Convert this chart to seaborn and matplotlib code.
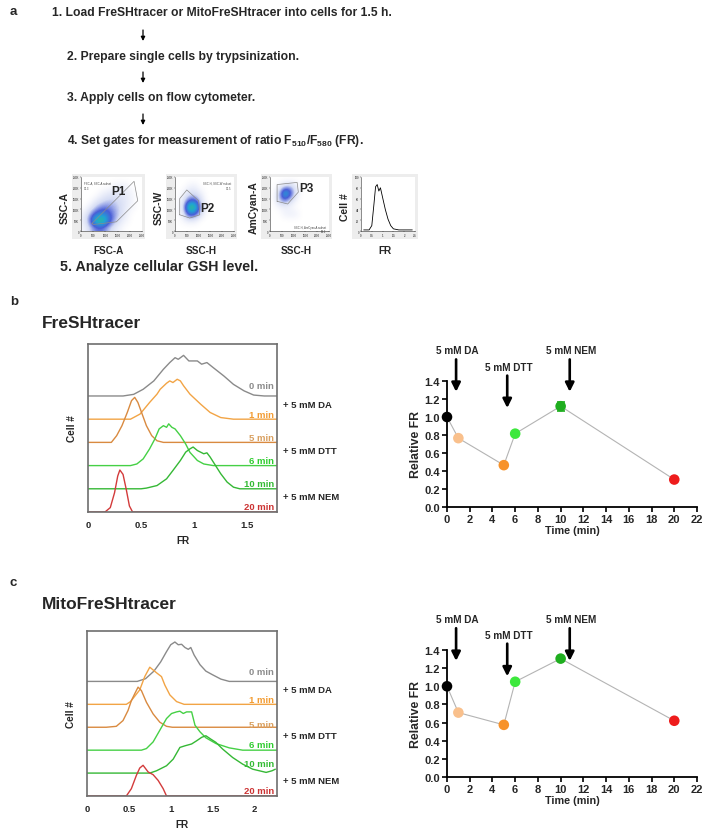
import numpy as np
import pandas as pd
import matplotlib
matplotlib.use("Agg")
import matplotlib.pyplot as plt
import matplotlib.transforms as mtransforms
from matplotlib.patches import FancyArrowPatch
from matplotlib.colors import LinearSegmentedColormap
import seaborn as sns

# ---------------- data ----------------
steps = [
    "1. Load FreSHtracer or MitoFreSHtracer into cells for 1.5 h.",
    "2. Prepare single cells by trypsinization.",
    "3. Apply cells on flow cytometer.",
    "4. Set gates for measurement of ratio F$_{510}$/F$_{580}$ (FR).",
    "5. Analyze cellular GSH level.",
]

# gating mini plots (panel a)
gate_xlabels = ["FSC-A", "SSC-H", "SSC-H", "FR"]
gate_ylabels = ["SSC-A", "SSC-W", "AmCyan-A", "Cell #"]
gate_names = ["P1", "P2", "P3"]
gate_notes = ["FSC-A, SSC-A subset\n91.3", "SSC-H, SSC-W subset\n91.5", "SSC-H, AmCyan-A subset\n96.2"]
dens_p1 = [[0, 0, 0, 0, 0, 0, 0, 0, 0, 0],
           [0, 0, 0, 0, 0, 0.3, 0.4, 0.3, 0, 0],
           [0, 0, 0, 0.3, 0.5, 0.6, 0.5, 0.4, 0.2, 0],
           [0, 0, 0.4, 0.7, 0.9, 0.9, 0.7, 0.5, 0.2, 0],
           [0, 0.4, 1.0, 1.4, 1.4, 1.1, 0.8, 0.4, 0.2, 0],
           [0.3, 1.1, 1.9, 2.2, 1.9, 1.3, 0.8, 0.3, 0, 0],
           [0.4, 1.6, 3.2, 3.6, 2.2, 1.2, 0.5, 0.2, 0, 0],
           [0.2, 0.9, 1.5, 1.5, 1.0, 0.5, 0.2, 0, 0, 0]]
dens_p2 = [[0, 0, 0, 0, 0, 0, 0, 0, 0, 0],
           [0, 0, 0.3, 0.3, 0, 0, 0, 0, 0, 0],
           [0, 0.3, 0.7, 0.7, 0.3, 0, 0, 0, 0, 0],
           [0, 0.6, 1.6, 1.6, 0.6, 0, 0, 0, 0, 0],
           [0, 1.0, 3.8, 3.2, 0.9, 0.2, 0, 0, 0, 0],
           [0, 0.7, 2.2, 1.8, 0.6, 0, 0, 0, 0, 0],
           [0, 0.2, 0.4, 0.3, 0, 0, 0, 0, 0, 0],
           [0, 0, 0, 0, 0, 0, 0, 0, 0, 0]]
dens_p3 = [[0, 0, 0, 0, 0, 0, 0, 0, 0, 0],
           [0, 0.2, 0.8, 1.0, 0.4, 0, 0, 0, 0, 0],
           [0, 0.8, 3.2, 2.0, 0.5, 0, 0, 0, 0, 0],
           [0, 0.9, 1.6, 0.8, 0.2, 0, 0, 0, 0, 0],
           [0, 0.2, 0.3, 0.2, 0, 0, 0, 0, 0, 0],
           [0, 0, 0.3, 0.4, 0.3, 0, 0, 0, 0, 0],
           [0, 0, 0, 0, 0, 0, 0, 0, 0, 0],
           [0, 0, 0, 0, 0, 0, 0, 0, 0, 0]]
gate_p1 = [(0.18, 0.14), (0.87, 0.92), (0.93, 0.56), (0.58, 0.17), (0.20, 0.12)]
gate_p2 = [(0.08, 0.30), (0.08, 0.60), (0.20, 0.76), (0.40, 0.56), (0.42, 0.30), (0.25, 0.24)]
gate_p3 = [(0.12, 0.55), (0.12, 0.86), (0.46, 0.90), (0.48, 0.72), (0.30, 0.50)]
mini_fr = [0.05, 0.15, 0.20, 0.24, 0.27, 0.30, 0.33, 0.36, 0.40, 0.45, 0.50, 0.55, 0.60, 0.70, 0.95]
mini_count = [0.02, 0.02, 0.10, 0.50, 0.82, 0.86, 0.74, 0.80, 0.62, 0.40, 0.22, 0.10, 0.04, 0.02, 0.02]

time_labels = ["0 min", "1 min", "5 min", "6 min", "10 min", "20 min"]
treat_labels = ["+ 5 mM DA", "+ 5 mM DTT", "+ 5 mM NEM"]

# FreSHtracer histograms: FR and height (units of trace spacing)
b_fr = [
    [0.33, 0.43, 0.52, 0.62, 0.71, 0.77, 0.82, 0.85, 0.90, 0.95, 1.03, 1.07, 1.12, 1.18, 1.28, 1.37, 1.47, 1.56, 1.66],
    [0.40, 0.49, 0.58, 0.65, 0.68, 0.74, 0.77, 0.80, 0.84, 0.87, 0.90, 0.96, 1.06, 1.15, 1.25, 1.37],
    [0.22, 0.27, 0.32, 0.37, 0.41, 0.44, 0.47, 0.51, 0.55, 0.60, 0.65, 0.71],
    [0.40, 0.46, 0.52, 0.58, 0.63, 0.67, 0.71, 0.74, 0.76, 0.79, 0.82, 0.87, 0.92, 0.96, 1.03, 1.09, 1.18],
    [0.50, 0.55, 0.65, 0.74, 0.80, 0.87, 0.92, 0.96, 0.99, 1.03, 1.06, 1.09, 1.12, 1.15, 1.20, 1.25, 1.31, 1.37, 1.43],
    [0.16, 0.21, 0.25, 0.28, 0.30, 0.33, 0.36, 0.39, 0.42],
]
b_h = [
    [0, 0.07, 0.29, 0.65, 1.15, 1.44, 1.65, 1.58, 1.75, 1.51, 1.51, 1.37, 1.44, 1.22, 0.86, 0.50, 0.22, 0.04, 0],
    [0, 0.22, 0.72, 1.08, 1.29, 1.55, 1.65, 1.58, 1.72, 1.65, 1.44, 1.08, 0.65, 0.29, 0.07, 0],
    [0, 0.29, 0.72, 1.29, 1.80, 1.94, 1.72, 1.22, 0.72, 0.29, 0.07, 0],
    [0, 0.07, 0.29, 0.72, 1.15, 1.58, 1.72, 1.65, 1.80, 1.65, 1.58, 1.29, 0.93, 0.57, 0.22, 0.07, 0],
    [0, 0.03, 0.14, 0.43, 0.79, 1.22, 1.58, 1.72, 1.80, 1.65, 1.58, 1.51, 1.55, 1.37, 1.01, 0.65, 0.29, 0.07, 0],
    [0, 0.19, 0.83, 1.55, 1.81, 1.62, 0.98, 0.26, 0],
]

# MitoFreSHtracer histograms
c_fr = [
    [0.60, 0.70, 0.80, 0.88, 0.95, 1.00, 1.05, 1.09, 1.13, 1.17, 1.21, 1.24, 1.28, 1.35, 1.42, 1.50, 1.60, 1.70],
    [0.47, 0.52, 0.63, 0.69, 0.75, 0.79, 0.84, 0.89, 0.93, 0.99, 1.07, 1.16],
    [0.23, 0.35, 0.43, 0.49, 0.53, 0.57, 0.61, 0.65, 0.71, 0.79, 0.87, 0.95, 1.02],
    [0.65, 0.71, 0.79, 0.87, 0.95, 1.01, 1.07, 1.11, 1.15, 1.19, 1.25, 1.29, 1.35, 1.42, 1.54, 1.70, 1.86],
    [0.75, 0.83, 0.95, 1.03, 1.11, 1.17, 1.25, 1.31, 1.37, 1.42, 1.48, 1.54, 1.62, 1.74, 1.86, 1.98, 2.14, 2.21, 2.25],
    [0.47, 0.53, 0.59, 0.63, 0.67, 0.73, 0.79, 0.85, 0.91, 0.95],
]
c_h = [
    [0, 0.12, 0.45, 0.85, 1.30, 1.60, 1.72, 1.60, 1.62, 1.48, 1.40, 1.48, 1.15, 0.73, 0.45, 0.29, 0.10, 0],
    [0, 0.12, 0.63, 1.21, 1.62, 1.50, 1.35, 1.21, 0.84, 0.41, 0.12, 0],
    [0, 0.04, 0.29, 0.73, 1.16, 1.46, 1.75, 1.60, 1.09, 0.58, 0.22, 0.04, 0],
    [0, 0.07, 0.36, 0.87, 1.38, 1.60, 1.67, 1.70, 1.60, 1.67, 1.67, 1.09, 0.80, 0.54, 0.29, 0.10, 0],
    [0, 0.10, 0.32, 0.61, 1.12, 1.19, 1.27, 1.41, 1.56, 1.63, 1.48, 1.34, 1.05, 0.68, 0.39, 0.17, 0.03, 0.10, 0.17],
    [0, 0.32, 0.90, 1.22, 1.34, 1.05, 0.93, 0.68, 0.32, 0],
]

# time course (relative FR)
times = [0, 1, 5, 6, 10, 20]
fresh_rel = [1.00, 0.765, 0.465, 0.815, 1.12, 0.305]
fresh_err = [0, 0, 0, 0, 0.05, 0]
mito_rel = [1.00, 0.71, 0.575, 1.05, 1.305, 0.62]
mito_err = [0, 0, 0, 0, 0, 0]
treat_short = ["5 mM DA", "5 mM DTT", "5 mM NEM"]
treat_time = [0.8, 5.3, 10.8]

# ---------------- style ----------------
hist_colors = ["#8a8a8a", "#f2a445", "#d98a40", "#45d045", "#35b835", "#d33b3b"]
label_colors = ["#8c8c8c", "#f39c32", "#d9a060", "#2ecc2e", "#33bb33", "#cc3333"]
point_colors = ["#000000", "#f9c08c", "#f7922a", "#3de83d", "#1fae1f", "#ee1c1c"]

sns.set_theme(style="white")
plt.rcParams["font.family"] = ["Liberation Sans", "DejaVu Sans"]
plt.rcParams["font.weight"] = "bold"
plt.rcParams["axes.labelweight"] = "bold"
plt.rcParams["mathtext.fontset"] = "custom"
plt.rcParams["mathtext.rm"] = "Liberation Sans:bold"
plt.rcParams["mathtext.it"] = "Liberation Sans:bold"
plt.rcParams["mathtext.bf"] = "Liberation Sans:bold"

W, H = 712, 837
fig = plt.figure(figsize=(W / 100, H / 100), dpi=100)


def rect(x0, y0, x1, y1):
    return [x0 / W, 1 - y1 / H, (x1 - x0) / W, (y1 - y0) / H]


def ftext(x, y, s, **kw):
    kw.setdefault("fontweight", "bold")
    fig.text(x / W, 1 - y / H, s, **kw)


def farrow(x, y0, y1, lw=0.9, scale=6):
    arr = FancyArrowPatch((x / W, 1 - y0 / H), (x / W, 1 - y1 / H), transform=fig.transFigure,
                          arrowstyle="-|>", mutation_scale=scale, lw=lw, color="black",
                          shrinkA=0, shrinkB=0)
    fig.add_artist(arr)


# ---------------- panel a ----------------
ftext(10, 12, "a", fontsize=9.5, va="center")
step_x = [52, 67, 67, 67, 60]
step_y = [13, 57, 98, 141, 267]
step_size = [8.7, 8.7, 8.7, 8.7, 10.3]
for s, x, y, fs in zip(steps, step_x, step_y, step_size):
    ftext(x, y, s, fontsize=fs, va="center")
for y0, y1 in [(31, 42), (73, 84), (115, 126)]:
    farrow(143, y0, y1)

dens_cmap = LinearSegmentedColormap.from_list(
    "flow", ["#ffffff", "#d5dcf4", "#4a5fd8", "#1fa3d6", "#35c47a", "#a8d83a", "#f2e23a"])
mini_boxes = [(72, 175, 145, 240), (166, 175, 237, 240), (261, 175, 332, 240), (352, 175, 418, 240)]
dens_all = [dens_p1, dens_p2, dens_p3]
gates_all = [gate_p1, gate_p2, gate_p3]
name_pos = [(0.62, 0.74), (0.55, 0.42), (0.62, 0.80)]
note_pos = [(0.05, 0.93, "left"), (0.95, 0.93, "right"), (0.95, 0.12, "right")]

for i, (x0, y0, x1, y1) in enumerate(mini_boxes):
    bg = fig.add_axes(rect(x0, y0, x1, y1))
    bg.set_facecolor("#ededed")
    bg.set_xticks([])
    bg.set_yticks([])
    for sp in bg.spines.values():
        sp.set_visible(False)
    ax = fig.add_axes(rect(x0 + 9, y0 + 3, x1 - 3, y1 - 8))
    ax.set_facecolor("white")
    ax.set_xlim(0, 1)
    ax.set_ylim(0, 1)
    ax.set_xticks(np.linspace(0, 1, 6))
    ax.set_yticks(np.linspace(0, 1, 6))
    ax.set_xticklabels(["0", "500", "1000", "1500", "2000", "2500"], fontsize=2, color="#555555")
    ax.set_yticklabels(["0", "50K", "100K", "150K", "200K", "250K"], fontsize=2, color="#555555")
    ax.tick_params(length=1, width=0.3, pad=0.5, direction="out", left=True, bottom=True)
    for side in ["top", "right"]:
        ax.spines[side].set_visible(False)
    for side in ["left", "bottom"]:
        ax.spines[side].set_linewidth(0.4)
        ax.spines[side].set_color("#333333")
    if i < 3:
        ax.imshow(np.array(dens_all[i]), extent=[0, 1, 0, 1], cmap=dens_cmap, vmin=0, vmax=5,
                  interpolation="bicubic", aspect="auto", origin="upper", zorder=1)
        g = gates_all[i] + [gates_all[i][0]]
        ax.plot([p[0] for p in g], [p[1] for p in g], color="#8a8a8a", lw=0.5, zorder=2)
        ax.text(name_pos[i][0], name_pos[i][1], gate_names[i], fontsize=8.5, fontweight="bold",
                transform=ax.transAxes, ha="center", va="center", zorder=3)
        nx, ny, nha = note_pos[i]
        ax.text(nx, ny, gate_notes[i], fontsize=2, color="#444444", transform=ax.transAxes,
                ha=nha, va="top", fontweight="normal", linespacing=1.3, zorder=3)
    else:
        sns.lineplot(x=mini_fr, y=mini_count, ax=ax, color="black", lw=0.6, estimator=None)
        ax.set_yticklabels(["0", "20", "40", "60", "80", "100"], fontsize=2, color="#555555")
        ax.set_xticklabels(["0", "0.5", "1", "1.5", "2", "2.5"], fontsize=2, color="#555555")
    ax.set_xlabel("")
    ax.set_ylabel("")
    ftext(x0 - 7, (y0 + y1) / 2, gate_ylabels[i], fontsize=7.5, rotation=90, ha="center", va="center")
    ftext((x0 + x1) / 2, 251, gate_xlabels[i], fontsize=7.2, ha="center", va="center")


# ---------------- histograms ----------------
def draw_hist(box, frs, hs, xmax, ymax, xticks, lifts):
    ax = fig.add_axes(rect(*box))
    ax.set_facecolor("white")
    n = len(frs)
    trans = mtransforms.blended_transform_factory(ax.transAxes, ax.transData)
    for k in range(n):
        off = n - 1 - k
        fr = [0] + list(frs[k])
        h = [0] + list(hs[k])
        if h[-1] == 0:
            fr = fr + [xmax]
            h = h + [0]
        sns.lineplot(x=fr, y=[v + off for v in h], ax=ax, color=hist_colors[k], lw=1.0,
                     estimator=None, sort=False)
        ax.text(0.985, off + lifts[k], time_labels[k], color=label_colors[k], fontsize=6.8,
                fontweight="bold", ha="right", va="center", transform=trans)
    for lab, yy in zip(treat_labels, [4.63, 2.63, 0.68]):
        ax.text(1.03, yy, lab, fontsize=6.8, fontweight="bold", ha="left", va="center",
                transform=trans, clip_on=False)
    ax.set_xlim(0, xmax)
    ax.set_ylim(0, ymax)
    ax.set_xticks(xticks)
    ax.set_xticklabels([f"{t:g}" for t in xticks], fontsize=6.8, fontweight="bold")
    ax.set_yticks([])
    ax.tick_params(axis="x", length=0, pad=6)
    for sp in ax.spines.values():
        sp.set_visible(True)
        sp.set_color("#6e6e6e")
        sp.set_linewidth(1.2)
    ax.set_xlabel("FR", fontsize=7.2, fontweight="bold", labelpad=4)
    ax.set_ylabel("Cell #", fontsize=7.2, fontweight="bold", labelpad=8)
    return ax


draw_hist((88, 345, 277, 513), b_fr, b_h, 1.78, 7.24, [0, 0.5, 1, 1.5],
          [0.43, 0.22, 0.22, 0.22, 0.22, 0.22])
draw_hist((87, 632, 277, 797), c_fr, c_h, 2.27, 7.2, [0, 0.5, 1, 1.5, 2],
          [0.44, 0.22, 0.13, 0.26, 0.40, 0.22])


# ---------------- time course ----------------
def draw_course(box, rel, err, dtt_top):
    ax = fig.add_axes(rect(*box))
    ax.set_facecolor("white")
    df = pd.DataFrame({"time": times, "rel": rel, "err": err, "lab": time_labels})
    sns.lineplot(data=df, x="time", y="rel", ax=ax, color="#b4b4b4", lw=0.8, estimator=None,
                 sort=False, zorder=1)
    for t, v, e, c in zip(times, rel, err, point_colors):
        if e > 0:
            ax.errorbar([t], [v], yerr=[e], fmt="none", ecolor=c, elinewidth=1.2, capsize=3,
                        capthick=1.2, zorder=2)
    sns.scatterplot(data=df, x="time", y="rel", hue="lab", palette=dict(zip(time_labels, point_colors)),
                    s=58, edgecolor="none", legend=False, ax=ax, zorder=3, clip_on=False)
    ax.set_xlim(0, 22)
    ax.set_ylim(0, 1.4)
    ax.set_xticks(range(0, 23, 2))
    ax.set_yticks(np.round(np.arange(0, 1.41, 0.2), 1))
    ax.set_yticklabels([f"{v:.1f}" for v in np.arange(0, 1.41, 0.2)], fontsize=8, fontweight="bold")
    ax.set_xticklabels([str(v) for v in range(0, 23, 2)], fontsize=8, fontweight="bold")
    sns.despine(ax=ax)
    for side in ["left", "bottom"]:
        ax.spines[side].set_color("black")
        ax.spines[side].set_linewidth(1.3)
    ax.tick_params(direction="out", length=3.5, width=1.2, color="black", pad=1.5,
                   left=True, bottom=True)
    ax.set_xlabel("Time (min)", fontsize=7.8, fontweight="bold", labelpad=1)
    ax.set_ylabel("Relative FR", fontsize=8.8, fontweight="bold", labelpad=2)
    tops = [1.64, dtt_top, 1.64]
    for lab, tx, top in zip(treat_short, treat_time, tops):
        ax.annotate("", xy=(tx, top - 0.36), xytext=(tx, top), annotation_clip=False,
                    arrowprops=dict(arrowstyle="-|>", lw=1.9, color="black", mutation_scale=13,
                                    shrinkA=0, shrinkB=0))
        ax.text(tx + 0.1, top + 0.1, lab, fontsize=7.2, fontweight="bold", ha="center", va="center",
                clip_on=False)
    return ax


ftext(10, 302, "b", fontsize=9.5, va="center")
ftext(42, 323, "FreSHtracer", fontsize=12.5, va="center")
draw_course((447, 382, 697, 508), fresh_rel, fresh_err, 1.46)

ftext(10, 583, "c", fontsize=9.5, va="center")
ftext(42, 605, "MitoFreSHtracer", fontsize=12.5, va="center")
draw_course((447, 651, 697, 778), mito_rel, mito_err, 1.47)

fig.savefig("out.png", dpi=100)
